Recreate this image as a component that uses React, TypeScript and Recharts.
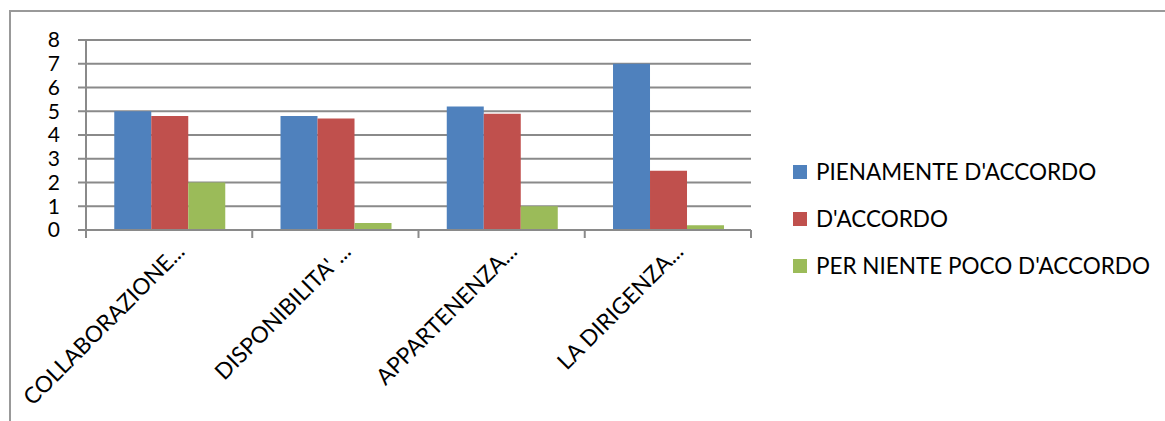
import React from "react";
import { BarChart, Bar, XAxis, YAxis, CartesianGrid } from "recharts";

const categories = ["COLLABORAZIONE...", "DISPONIBILITA' ...", "APPARTENENZA...", "LA DIRIGENZA..."];
const pienamente = [5, 4.8, 5.2, 7];
const accordo = [4.8, 4.7, 4.9, 2.5];
const perNiente = [2, 0.3, 1, 0.2];
const yTicks = [0, 1, 2, 3, 4, 5, 6, 7, 8];

const seriesInfo = [
  { key: "pienamente", name: "PIENAMENTE D'ACCORDO", color: "#4F81BD" },
  { key: "accordo", name: "D'ACCORDO", color: "#C0504D" },
  { key: "perNiente", name: "PER NIENTE POCO D'ACCORDO", color: "#9BBB59" },
];

const data = categories.map((name, i) => ({
  name,
  pienamente: pienamente[i],
  accordo: accordo[i],
  perNiente: perNiente[i],
}));

const W = 1165;
const H = 421;
const MARGIN = { top: 40, right: 414, bottom: 0, left: 0 };
const X_AXIS_H = 191;
const Y_AXIS_W = 86;
const FONT = "Lato, 'Open Sans', sans-serif";
const GRID = "#8a8a8a";

const plotLeft = MARGIN.left + Y_AXIS_W;
const plotRight = W - MARGIN.right;
const plotBottom = H - MARGIN.bottom - X_AXIS_H;
const band = (plotRight - plotLeft) / categories.length;

// category ticks sit on the boundaries, labels rotated like in Excel
function CategoryTick(props: any) {
  const { x, payload, index } = props;
  const left = x - band / 2;
  const tx = x + 17;
  const ty = plotBottom + 23;
  return (
    <g>
      <line x1={left} y1={plotBottom} x2={left} y2={plotBottom + 8} stroke={GRID} strokeWidth={2} />
      {index === categories.length - 1 && (
        <line x1={x + band / 2} y1={plotBottom} x2={x + band / 2} y2={plotBottom + 8} stroke={GRID} strokeWidth={2} />
      )}
      <text
        x={tx}
        y={ty}
        textAnchor="end"
        transform={`rotate(-45, ${tx}, ${ty})`}
        fontSize={22.5}
        fontFamily={FONT}
        fill="#000"
      >
        {payload.value}
      </text>
    </g>
  );
}

function LegendBox() {
  return (
    <div style={{ position: "absolute", left: 793, top: 148, fontFamily: FONT, fontSize: 22.5, color: "#000" }}>
      {seriesInfo.map((s) => (
        <div key={s.key} style={{ display: "flex", alignItems: "center", height: 47, whiteSpace: "nowrap" }}>
          <span style={{ width: 14, height: 14, background: s.color, marginRight: 9, display: "inline-block" }} />
          <span>{s.name}</span>
        </div>
      ))}
    </div>
  );
}

export default function App() {
  return (
    <div style={{ position: "absolute", left: 0, top: 0, width: W, height: H, background: "#fff", overflow: "hidden" }}>
      <div
        style={{
          position: "absolute",
          left: 9,
          top: 10,
          right: -4,
          bottom: -4,
          borderTop: "2px solid #999",
          borderLeft: "2px solid #999",
        }}
      />
      <BarChart
        width={W}
        height={H}
        data={data}
        margin={MARGIN}
        barGap={0}
        barCategoryGap="17%"
        style={{ position: "absolute", left: 0, top: 0 }}
      >
        <CartesianGrid vertical={false} stroke={GRID} strokeWidth={2} />
        <XAxis
          dataKey="name"
          interval={0}
          axisLine={{ stroke: GRID, strokeWidth: 2 }}
          tickLine={false}
          tick={<CategoryTick />}
          height={X_AXIS_H}
        />
        <YAxis
          width={Y_AXIS_W}
          domain={[0, 8]}
          ticks={yTicks}
          interval={0}
          axisLine={{ stroke: GRID, strokeWidth: 2 }}
          tickLine={{ stroke: GRID, strokeWidth: 2 }}
          tickSize={8}
          tickMargin={18}
          tick={{ fill: "#000", fontSize: 21, fontFamily: FONT }}
        />
        {seriesInfo.map((s) => (
          <Bar key={s.key} dataKey={s.key} name={s.name} fill={s.color} isAnimationActive={false} />
        ))}
      </BarChart>
      <LegendBox />
    </div>
  );
}
